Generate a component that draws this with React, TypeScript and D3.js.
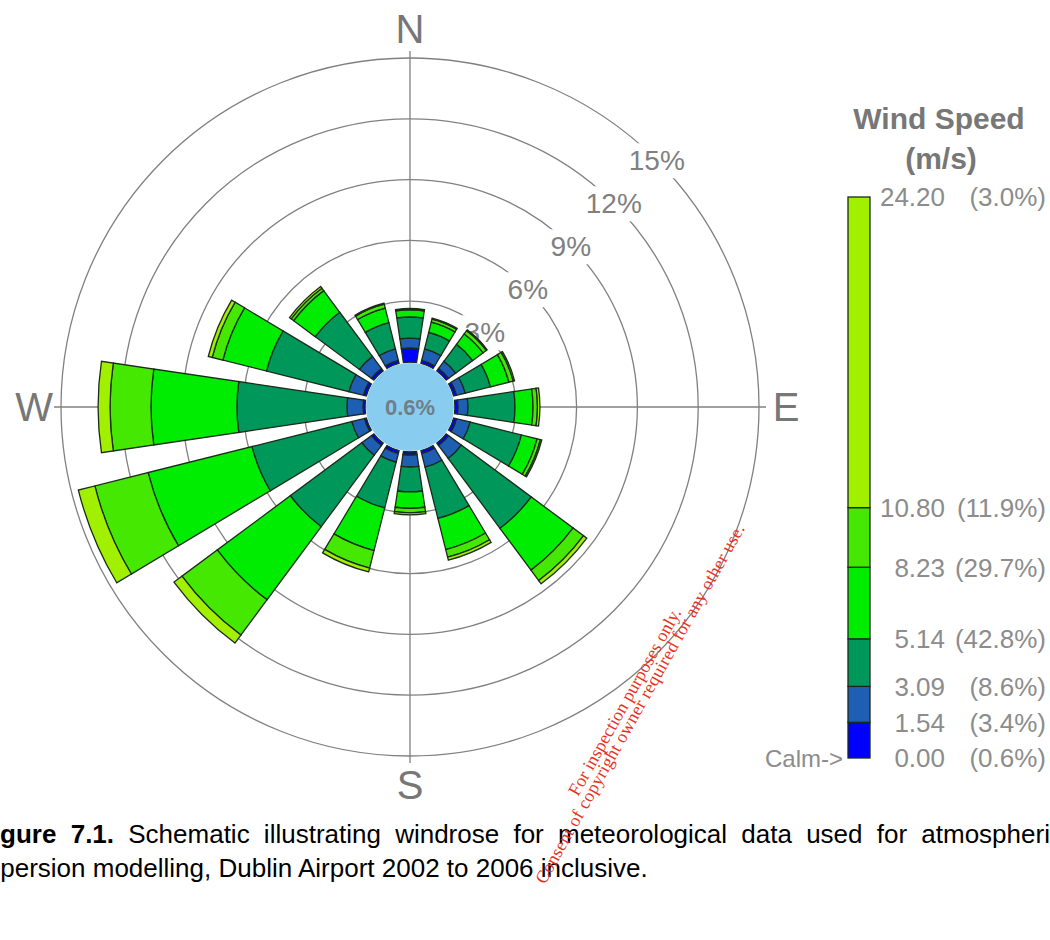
import React, { useRef, useEffect } from 'react';
import * as d3 from 'd3';

// 16 compass sectors, clockwise from north
const directions = ['N', 'NNE', 'NE', 'ENE', 'E', 'ESE', 'SE', 'SSE', 'S', 'SSW', 'SW', 'WSW', 'W', 'WNW', 'NW', 'NNW'];

// frequency (%) of each speed class per sector
const class1 = [0.69, 0.15, 0.15, 0.15, 0.15, 0.15, 0.15, 0.15, 0.15, 0.15, 0.15, 0.1, 0.1, 0.15, 0.15, 0.15];
const class2 = [0.49, 0.59, 0.44, 0.44, 0.49, 0.69, 0.79, 0.69, 0.59, 0.44, 0.59, 0.64, 0.79, 0.74, 0.74, 0.59];
const class3 = [1.04, 0.84, 1.04, 1.28, 2.32, 2.61, 4.29, 2.61, 1.23, 2.32, 4.39, 5.08, 5.43, 4.19, 2.71, 1.33];
const class4 = [0.35, 0.52, 0.64, 0.94, 0.89, 0.79, 2.57, 1.58, 0.81, 2.17, 4.49, 5.28, 4.24, 2.22, 1.33, 0.74];
const class5 = [0.07, 0.15, 0.2, 0.22, 0.22, 0.17, 0.64, 0.39, 0.22, 0.89, 2.17, 2.71, 2.02, 0.54, 0.15, 0.2];
const class6 = [0, 0.05, 0.05, 0.07, 0.12, 0.07, 0.2, 0.15, 0.1, 0.2, 0.49, 0.84, 0.59, 0.2, 0.1, 0.05];
const calmLabel = '0.6%';

const ringTicks = [3, 6, 9, 12, 15];

// legend
const speedBreaks = [0, 1.54, 3.09, 5.14, 8.23, 10.8, 24.2];
const speedLabels = ['0.00', '1.54', '3.09', '5.14', '8.23', '10.80', '24.20'];
const speedPct = ['(0.6%)', '(3.4%)', '(8.6%)', '(42.8%)', '(29.7%)', '(11.9%)', '(3.0%)'];
const classColors = ['#0000ff', '#1e5fb4', '#00985a', '#00ec00', '#44e800', '#a0f000'];

const WindRose = () => {
  const svgRef = useRef(null);

  useEffect(() => {
    const svg = d3.select(svgRef.current);
    svg.selectAll('*').remove();

    const cx = 410;
    const cy = 407;
    const r = d3.scaleLinear().domain([0, 15]).range([45, 349]);
    const gray = '#808080';
    const font = "'Liberation Sans', Arial, sans-serif";

    const g = svg.append('g').attr('transform', `translate(${cx},${cy})`);

    // rings
    g.selectAll('circle.ring')
      .data(ringTicks)
      .join('circle')
      .attr('class', 'ring')
      .attr('r', (d) => r(d))
      .attr('fill', 'none')
      .attr('stroke', gray)
      .attr('stroke-width', 1.3);

    // compass axes
    const axLen = 356;
    g.append('line').attr('x1', 0).attr('x2', 0).attr('y1', -axLen).attr('y2', axLen)
      .attr('stroke', gray).attr('stroke-width', 1.3);
    g.append('line').attr('y1', 0).attr('y2', 0).attr('x1', -axLen).attr('x2', axLen)
      .attr('stroke', gray).attr('stroke-width', 1.3);

    // ring labels on the 45 degree line, with a white gap behind
    const s45 = Math.SQRT1_2;
    ringTicks.forEach((t) => {
      const lx = r(t) * s45;
      const ly = -r(t) * s45;
      const lbl = g.append('g').attr('transform', `translate(${lx},${ly})`);
      const bg = lbl.append('rect').attr('fill', 'white');
      const txt = lbl
        .append('text')
        .attr('text-anchor', 'middle')
        .attr('dy', '0.36em')
        .attr('font-family', font)
        .attr('font-size', 28)
        .attr('fill', gray)
        .text(`${t}%`);
      const bb = (txt.node() as SVGTextElement).getBBox();
      bg.attr('x', bb.x - 5).attr('y', bb.y - 2).attr('width', bb.width + 10).attr('height', bb.height + 4);
    });

    // compass letters
    const compass = [
      { t: 'N', a: 0 },
      { t: 'E', a: 90 },
      { t: 'S', a: 180 },
      { t: 'W', a: 270 },
    ];
    g.selectAll('text.compass')
      .data(compass)
      .join('text')
      .attr('class', 'compass')
      .attr('x', (d) => Math.sin((d.a * Math.PI) / 180) * 376)
      .attr('y', (d) => -Math.cos((d.a * Math.PI) / 180) * 378)
      .attr('dy', '0.36em')
      .attr('text-anchor', 'middle')
      .attr('font-family', font)
      .attr('font-size', 40)
      .attr('fill', '#777')
      .text((d) => d.t);

    // petals
    const series = [class1, class2, class3, class4, class5, class6];
    const step = (2 * Math.PI) / directions.length;
    const half = (step * 0.75) / 2;
    const arc = d3.arc();
    const segs = [];
    directions.forEach((dir, i) => {
      let acc = 0;
      series.forEach((vals, k) => {
        const v = vals[i];
        if (v <= 0) return;
        segs.push({
          dir,
          k,
          innerRadius: r(acc),
          outerRadius: r(acc + v),
          startAngle: i * step - half,
          endAngle: i * step + half,
        });
        acc += v;
      });
    });
    g.selectAll('path.seg')
      .data(segs)
      .join('path')
      .attr('class', 'seg')
      .attr('d', (d) => arc(d))
      .attr('fill', (d) => classColors[d.k])
      .attr('stroke', '#1b2a1b')
      .attr('stroke-width', 1.3)
      .attr('stroke-linejoin', 'miter');

    // calm circle
    g.append('circle').attr('r', 44).attr('fill', '#88cdef');
    g.append('text')
      .attr('text-anchor', 'middle')
      .attr('dy', '0.36em')
      .attr('font-family', font)
      .attr('font-weight', 'bold')
      .attr('font-size', 22)
      .attr('fill', '#6f7f8a')
      .text(calmLabel);

    // legend
    const ly = d3.scaleLinear().domain([0, 24.2]).range([758, 197]);
    const lx = 848;
    const lw = 22;
    const leg = svg.append('g');
    leg.selectAll('rect')
      .data(classColors)
      .join('rect')
      .attr('x', lx)
      .attr('y', (d, i) => ly(speedBreaks[i + 1]))
      .attr('width', lw)
      .attr('height', (d, i) => ly(speedBreaks[i]) - ly(speedBreaks[i + 1]))
      .attr('fill', (d) => d)
      .attr('stroke', '#1b2a1b')
      .attr('stroke-width', 1.3);

    leg.selectAll('text.val')
      .data(speedLabels)
      .join('text')
      .attr('class', 'val')
      .attr('x', 945)
      .attr('y', (d, i) => ly(speedBreaks[i]))
      .attr('dy', '0.36em')
      .attr('text-anchor', 'end')
      .attr('font-family', font)
      .attr('font-size', 26)
      .attr('fill', '#8c8c8c')
      .text((d) => d);

    leg.selectAll('text.pct')
      .data(speedPct)
      .join('text')
      .attr('class', 'pct')
      .attr('x', 1046)
      .attr('y', (d, i) => ly(speedBreaks[i]))
      .attr('dy', '0.36em')
      .attr('text-anchor', 'end')
      .attr('font-family', font)
      .attr('font-size', 26)
      .attr('fill', '#8c8c8c')
      .text((d) => d);

    leg.append('text')
      .attr('x', 843)
      .attr('y', ly(0))
      .attr('dy', '0.36em')
      .attr('text-anchor', 'end')
      .attr('font-family', font)
      .attr('font-size', 24)
      .attr('fill', '#8c8c8c')
      .text('Calm->');

    leg.append('text')
      .attr('x', 939)
      .attr('y', 118)
      .attr('dy', '0.36em')
      .attr('text-anchor', 'middle')
      .attr('font-family', font)
      .attr('font-weight', 'bold')
      .attr('font-size', 30)
      .attr('fill', '#777')
      .text('Wind Speed');
    leg.append('text')
      .attr('x', 941)
      .attr('y', 158)
      .attr('dy', '0.36em')
      .attr('text-anchor', 'middle')
      .attr('font-family', font)
      .attr('font-weight', 'bold')
      .attr('font-size', 30)
      .attr('fill', '#777')
      .text('(m/s)');

    // caption (page crop cuts its left and right edges)
    const cap = svg.append('g').attr('font-family', font).attr('font-size', 26).attr('fill', '#000');
    const l1 = cap.append('text').attr('x', -23).attr('y', 843).style('word-spacing', '7px');
    l1.append('tspan').attr('font-weight', 'bold').text('Figure 7.1.');
    l1.append('tspan').text(' Schematic illustrating windrose for meteorological data used for atmospheric');
    cap.append('text').attr('x', -33).attr('y', 877).text('dispersion modelling, Dublin Airport 2002 to 2006 inclusive.');

    // watermark
    const wm = svg.append('g')
      .attr('font-family', "'Liberation Serif', 'Times New Roman', serif")
      .attr('font-size', 18)
      .attr('fill', '#e8321e');
    wm.append('text')
      .attr('transform', 'translate(578,797) rotate(-60.7)')
      .text('For inspection purposes only.');
    wm.append('text')
      .attr('transform', 'translate(545,885) rotate(-60.7)')
      .attr('textLength', 409)
      .attr('lengthAdjust', 'spacing')
      .text('Consent of copyright owner required for any other use.');
  }, []);

  return (
    <svg
      ref={svgRef}
      width={1050}
      height={940}
      style={{ position: 'absolute', left: 0, top: 0, background: '#fff' }}
    />
  );
};

export default function App() {
  return <WindRose />;
}
